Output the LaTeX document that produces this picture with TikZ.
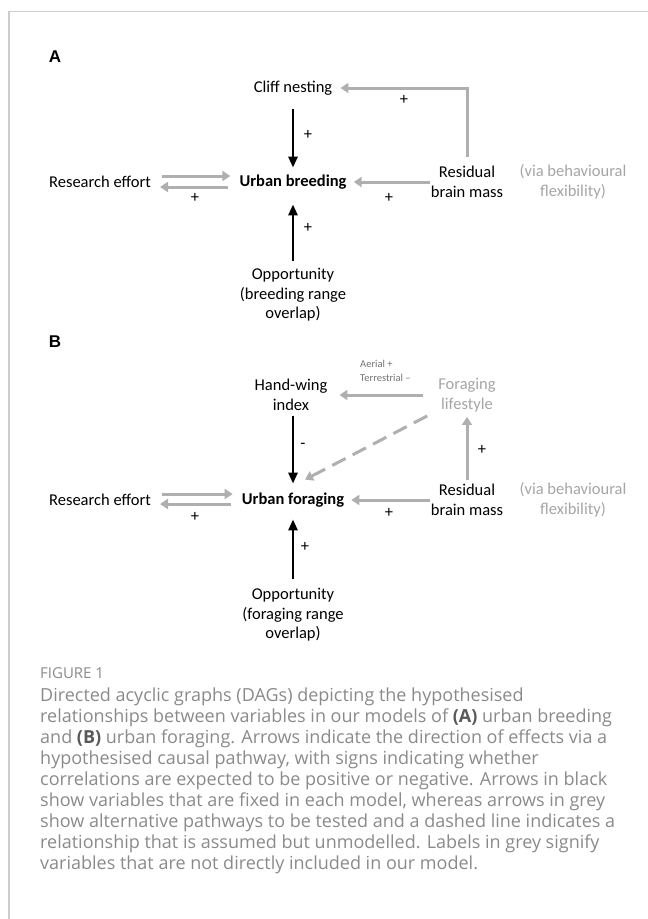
\documentclass[tikz,border=0pt]{standalone}
\usepackage{fontspec}
\setmainfont{Carlito}
\newfontfamily\capfont{Open Sans}
\newfontfamily\panelfont{Liberation Sans}
\usetikzlibrary{arrows.meta}

\definecolor{framegrey}{HTML}{CCCCCC}
\definecolor{pathgrey}{HTML}{AFAFAF}
\definecolor{notegrey}{HTML}{A5A5A5}
\definecolor{capgrey}{HTML}{8A8A8A}

\tikzset{
  var/.style={align=center, inner sep=0pt, font=\fontsize{16.5}{19.5}\selectfont},
  bvar/.style={var, font=\fontsize{16.5}{19.5}\selectfont\bfseries},
  note/.style={var, text=notegrey},
  sign/.style={inner sep=0pt, font=\fontsize{16.5}{19.5}\selectfont},
  panel/.style={inner sep=0pt, font=\panelfont\fontsize{17}{20}\selectfont\bfseries},
  fixed/.style={line width=2.6pt, -{Triangle[length=11pt,width=9pt]}},
  alt/.style={line width=3pt, draw=pathgrey, -{Triangle[length=8pt,width=10pt]}},
}

\begin{document}
\begin{tikzpicture}[x=1pt,y=-1pt]
  \useasboundingbox (0,0) rectangle (648,919);
  \draw[framegrey, line width=1.5pt] (648,11.5) -- (9,11.5) -- (9,919);

  % A: urban breeding
  \node[panel] (panelA) at (55,57) {A};
  \node[var] (cliff) at (293,88) {Cliff nesting};
  \node[bvar] (ub) at (293,182) {Urban breeding};
  \node[var] (reA) at (100,182) {Research effort};
  \node[var] (rbA) at (467,182) {Residual\\brain mass};
  \node[note] (viaA) at (573,182) {(via behavioural\\flexibility)};
  \node[var] (opA) at (293,295) {Opportunity\\(breeding range\\overlap)};

  \draw[fixed, shorten <=14pt, shorten >=7pt] (cliff) -- (ub);
  \draw[fixed, shorten <=7pt, shorten >=15pt] (opA) -- (ub);
  \draw[alt, shorten <=9pt, shorten >=8pt] (rbA.north) |- (cliff.east);
  \draw[alt, shorten <=11pt, shorten >=9pt] ([yshift=6pt]reA.east) -- ([yshift=6pt]ub.west);
  \draw[alt, shorten <=11pt, shorten >=9pt] ([yshift=-5pt]ub.west) -- ([yshift=-5pt]reA.east);
  \draw[alt, shorten <=1pt, shorten >=7pt] (rbA) -- (ub);

  \node[sign] (sA1) at (308,135) {+};
  \node[sign] (sA2) at (404,100) {+};
  \node[sign] (sA3) at (195,198) {+};
  \node[sign] (sA4) at (389,198) {+};
  \node[sign] (sA5) at (308,228) {+};

  % B: urban foraging
  \node[panel] (panelB) at (55,342) {B};
  \node[var] (hwB) at (291,395) {Hand-wing\\index};
  \node[note] (flB) at (467,395) {Foraging\\lifestyle};
  \node[anchor=west, align=left, inner sep=0pt, text=black!55, font=\fontsize{10.5}{14}\selectfont] (lifeSign) at (360,371) {Aerial +\\Terrestrial \textendash};
  \node[bvar] (uf) at (293,500) {Urban foraging};
  \node[var] (reB) at (100,500) {Research effort};
  \node[var] (rbB) at (467,500) {Residual\\brain mass};
  \node[note] (viaB) at (573,500) {(via behavioural\\flexibility)};
  \node[var] (opB) at (293,615) {Opportunity\\(foraging range\\overlap)};

  \draw[alt, shorten <=15pt, shorten >=12pt] (flB) -- (hwB);
  \draw[fixed, shorten <=5pt, shorten >=9pt] (hwB.south -| uf) -- (uf);
  \draw[alt, dashed, dash pattern=on 15pt off 8pt] ([xshift=-11pt,yshift=-4pt]flB.south west) -- ([xshift=12pt,yshift=13pt]uf.north);
  \draw[alt, shorten <=4pt, shorten >=5pt] (rbB) -- (flB);
  \draw[alt, shorten <=11pt, shorten >=9pt] ([yshift=6pt]reB.east) -- ([yshift=6pt]uf.west);
  \draw[alt, shorten <=11pt, shorten >=9pt] ([yshift=-4pt]uf.west) -- ([yshift=-4pt]reB.east);
  \draw[alt, shorten <=1pt, shorten >=7pt] (rbB) -- (uf);
  \draw[fixed, shorten <=9pt, shorten >=12pt] (opB) -- (uf);

  \node[sign] (sB1) at (303,446) {-};
  \node[sign] (sB2) at (482,450) {+};
  \node[sign] (sB3) at (195,517) {+};
  \node[sign] (sB4) at (389,513) {+};
  \node[sign] (sB5) at (305,547) {+};

  % caption
  \node[anchor=west, inner sep=0pt, text=capgrey, font=\capfont\fontsize{15}{17}\selectfont] (figNo) at (40,673) {FIGURE 1};
  \node[anchor=north west, inner sep=0pt, align=left, text=capgrey, font=\capfont\fontsize{18}{21}\selectfont] (capText) at (40,688) {Directed acyclic graphs (DAGs) depicting the hypothesised\\
relationships between variables in our models of \textcolor{black!65}{\bfseries(A)} urban breeding\\
and \textcolor{black!65}{\bfseries(B)} urban foraging. Arrows indicate the direction of effects via a\\
hypothesised causal pathway, with signs indicating whether\\
correlations are expected to be positive or negative. Arrows in black\\
show variables that are fixed in each model, whereas arrows in grey\\
show alternative pathways to be tested and a dashed line indicates a\\
relationship that is assumed but unmodelled. Labels in grey signify\\
variables that are not directly included in our model.};
\end{tikzpicture}
\end{document}
